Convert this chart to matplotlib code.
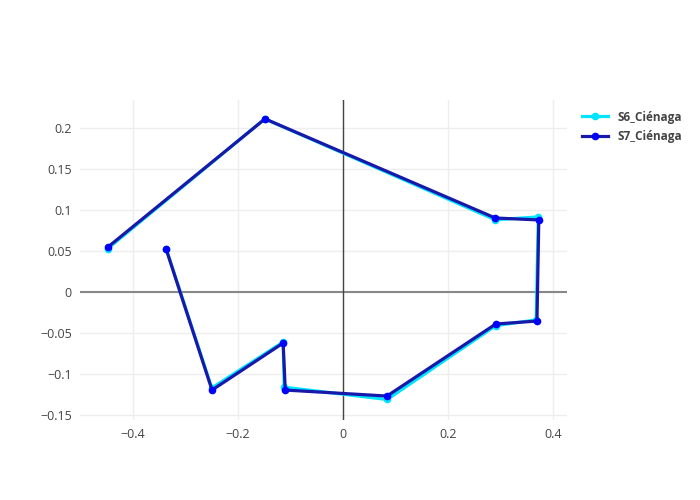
import matplotlib
matplotlib.use("Agg")
import matplotlib.pyplot as plt
from matplotlib.lines import Line2D

plt.rcParams["font.family"] = ["Open Sans", "DejaVu Sans"]

# values
s6_x = [-0.337, -0.250, -0.114, -0.112, 0.084, 0.291, 0.368, 0.372, 0.290, -0.149, -0.448]
s6_y = [0.053, -0.117, -0.061, -0.116, -0.131, -0.041, -0.034, 0.0915, 0.088, 0.211, 0.053]
s7_x = [-0.337, -0.2495, -0.114, -0.110, 0.0838, 0.291, 0.3695, 0.373, 0.290, -0.1486, -0.4476]
s7_y = [0.0524, -0.1195, -0.0622, -0.1195, -0.1268, -0.039, -0.0354, 0.0878, 0.0902, 0.211, 0.0549]

series = [
    ("S6_Ciénaga", s6_x, s6_y, "#00e5ff", "#00e5ff"),
    ("S7_Ciénaga", s7_x, s7_y, "#1818aa", "#0000ff"),
]

fig = plt.figure(figsize=(7, 5), dpi=100)
ax = fig.add_axes([80 / 700, 80 / 500, 487 / 700, 320 / 500])

for name, xs, ys, lc, mc in series:
    ax.plot(xs, ys, color=lc, lw=2.3, marker="o", ms=4.5,
            markerfacecolor=mc, markeredgecolor=mc, label=name, zorder=3)

ax.set_xlim(-0.501, 0.4267)
ax.set_ylim(-0.156, 0.234)
ax.set_xticks([-0.4, -0.2, 0, 0.2, 0.4])
ax.set_xticklabels(["\u22120.4", "\u22120.2", "0", "0.2", "0.4"])
ax.set_yticks([-0.15, -0.1, -0.05, 0, 0.05, 0.1, 0.15, 0.2])
ax.set_yticklabels(["\u22120.15", "\u22120.1", "\u22120.05", "0", "0.05", "0.1", "0.15", "0.2"])
ax.grid(True, color="#eeeeee", lw=1)
ax.set_axisbelow(True)
ax.axhline(0, color="#888888", lw=1.5, zorder=2)
ax.axvline(0, color="#444444", lw=1, zorder=2)
for s in ax.spines.values():
    s.set_visible(False)
ax.tick_params(length=0, labelsize=9, colors="#444444", pad=6)

handles = [Line2D([], [], color=lc, lw=2.3, marker="o", ms=4.5,
                  markerfacecolor=mc, markeredgecolor=mc) for _, _, _, lc, mc in series]
leg = ax.legend(handles, [s[0] for s in series], loc="upper left",
                bbox_to_anchor=(1.01, 1.0), frameon=False, handlelength=2.2,
                prop={"size": 8.5, "weight": "bold"}, labelspacing=0.55)
for t in leg.get_texts():
    t.set_color("#444444")

fig.savefig("out.png", dpi=100)
